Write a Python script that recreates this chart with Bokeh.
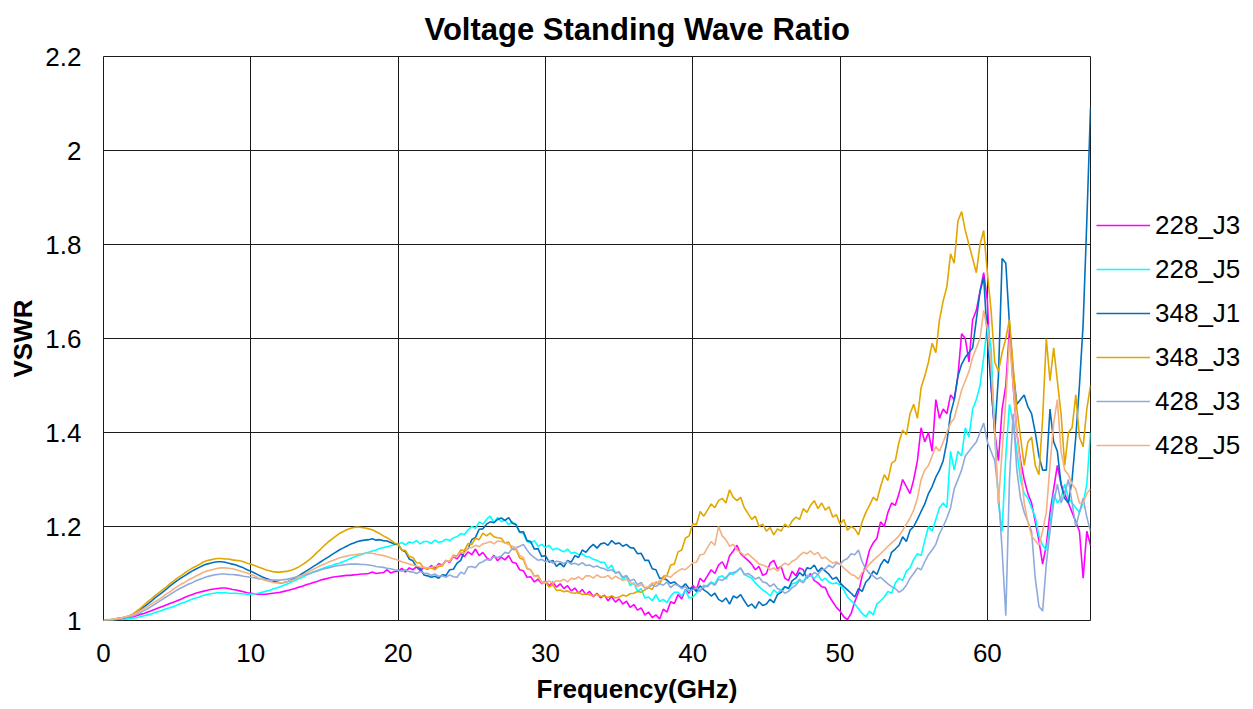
from bokeh.plotting import figure
from bokeh.models import Legend, LegendItem, FixedTicker, PrintfTickFormatter, Title, Range1d
from bokeh.embed import file_html
from bokeh.resources import INLINE

# Frequency grid (GHz), 0.25 GHz sampling
freq = [i * 0.25 for i in range(269)]

series_names = ["228_J3", "228_J5", "348_J1", "348_J3", "428_J3", "428_J5"]

vswr_228_J3 = [
    1.000, 1.001, 1.000, 1.002, 1.003, 1.004, 1.005, 1.006, 1.008, 1.010, 1.013, 1.015,
    1.018, 1.021, 1.024, 1.027, 1.030, 1.033, 1.036, 1.039, 1.042, 1.045, 1.049, 1.052,
    1.055, 1.058, 1.060, 1.062, 1.064, 1.066, 1.067, 1.068, 1.069, 1.069, 1.068, 1.066,
    1.065, 1.063, 1.061, 1.059, 1.058, 1.057, 1.056, 1.056, 1.056, 1.057, 1.058, 1.059,
    1.060, 1.062, 1.064, 1.066, 1.068, 1.071, 1.073, 1.076, 1.078, 1.081, 1.083, 1.086,
    1.088, 1.090, 1.092, 1.093, 1.094, 1.095, 1.096, 1.096, 1.097, 1.098, 1.099, 1.099,
    1.100, 1.103, 1.100, 1.101, 1.102, 1.108, 1.101, 1.104, 1.105, 1.111, 1.103, 1.112,
    1.108, 1.114, 1.106, 1.113, 1.109, 1.117, 1.111, 1.121, 1.118, 1.128, 1.124, 1.136,
    1.131, 1.142, 1.136, 1.146, 1.140, 1.152, 1.138, 1.145, 1.134, 1.128, 1.139, 1.127,
    1.135, 1.129, 1.138, 1.124, 1.122, 1.108, 1.106, 1.092, 1.093, 1.082, 1.088, 1.078,
    1.084, 1.074, 1.082, 1.071, 1.078, 1.068, 1.074, 1.063, 1.069, 1.058, 1.066, 1.055,
    1.062, 1.051, 1.058, 1.048, 1.054, 1.042, 1.051, 1.039, 1.046, 1.035, 1.041, 1.028,
    1.034, 1.022, 1.027, 1.012, 1.018, 1.006, 1.012, 1.003, 1.024, 1.018, 1.040, 1.036,
    1.055, 1.046, 1.066, 1.058, 1.075, 1.066, 1.090, 1.082, 1.095, 1.108, 1.100, 1.118,
    1.125, 1.110, 1.138, 1.148, 1.160, 1.142, 1.135, 1.128, 1.120, 1.108, 1.115, 1.096,
    1.100, 1.122, 1.128, 1.110, 1.115, 1.090, 1.085, 1.105, 1.095, 1.112, 1.108, 1.090,
    1.100, 1.085, 1.080, 1.072, 1.070, 1.052, 1.040, 1.028, 1.020, 1.008, 1.002, 1.015,
    1.040, 1.060, 1.095, 1.118, 1.150, 1.165, 1.175, 1.210, 1.200, 1.230, 1.250, 1.245,
    1.270, 1.300, 1.285, 1.270, 1.300, 1.340, 1.410, 1.380, 1.400, 1.360, 1.470, 1.430,
    1.450, 1.440, 1.480, 1.470, 1.520, 1.610, 1.600, 1.550, 1.640, 1.660, 1.700, 1.740,
    1.680, 1.500, 1.400, 1.340, 1.450, 1.500, 1.620, 1.500, 1.400, 1.340, 1.300, 1.270,
    1.250, 1.210, 1.170, 1.120, 1.160, 1.230, 1.280, 1.330, 1.290, 1.270, 1.250, 1.230,
    1.210, 1.190, 1.090, 1.190, 1.160,
]

vswr_228_J5 = [
    1.000, 1.001, 1.000, 1.001, 1.002, 1.002, 1.003, 1.004, 1.005, 1.006, 1.008, 1.010,
    1.012, 1.014, 1.017, 1.019, 1.022, 1.025, 1.027, 1.030, 1.033, 1.036, 1.039, 1.042,
    1.045, 1.048, 1.050, 1.053, 1.055, 1.057, 1.058, 1.059, 1.059, 1.059, 1.058, 1.058,
    1.058, 1.057, 1.057, 1.056, 1.056, 1.057, 1.058, 1.060, 1.062, 1.064, 1.067, 1.069,
    1.072, 1.075, 1.078, 1.082, 1.085, 1.089, 1.092, 1.096, 1.100, 1.103, 1.106, 1.109,
    1.112, 1.115, 1.117, 1.120, 1.122, 1.125, 1.128, 1.132, 1.135, 1.138, 1.140, 1.143,
    1.145, 1.148, 1.150, 1.153, 1.155, 1.157, 1.159, 1.161, 1.162, 1.166, 1.161, 1.167,
    1.165, 1.170, 1.163, 1.168, 1.168, 1.164, 1.171, 1.166, 1.168, 1.173, 1.170, 1.176,
    1.178, 1.185, 1.183, 1.193, 1.200, 1.196, 1.210, 1.205, 1.215, 1.222, 1.208, 1.219,
    1.210, 1.214, 1.204, 1.210, 1.204, 1.188, 1.185, 1.168, 1.165, 1.170, 1.158, 1.162,
    1.155, 1.160, 1.150, 1.154, 1.150, 1.146, 1.152, 1.143, 1.145, 1.140, 1.142, 1.136,
    1.135, 1.130, 1.128, 1.124, 1.124, 1.110, 1.118, 1.100, 1.104, 1.088, 1.094, 1.074,
    1.080, 1.062, 1.068, 1.048, 1.050, 1.042, 1.055, 1.040, 1.045, 1.038, 1.052, 1.060,
    1.060, 1.052, 1.065, 1.048, 1.050, 1.058, 1.065, 1.070, 1.075, 1.082, 1.078, 1.092,
    1.095, 1.088, 1.102, 1.098, 1.105, 1.112, 1.098, 1.094, 1.090, 1.080, 1.072, 1.065,
    1.060, 1.052, 1.065, 1.058, 1.065, 1.072, 1.068, 1.078, 1.080, 1.088, 1.082, 1.096,
    1.095, 1.090, 1.098, 1.085, 1.090, 1.082, 1.078, 1.080, 1.075, 1.065, 1.050, 1.042,
    1.035, 1.025, 1.015, 1.008, 1.020, 1.012, 1.035, 1.042, 1.050, 1.062, 1.058, 1.080,
    1.090, 1.085, 1.105, 1.112, 1.130, 1.142, 1.138, 1.170, 1.200, 1.190, 1.215, 1.240,
    1.250, 1.240, 1.360, 1.320, 1.360, 1.350, 1.410, 1.390, 1.450, 1.470, 1.500, 1.560,
    1.630, 1.580, 1.400, 1.250, 1.190, 1.350, 1.460, 1.420, 1.360, 1.300, 1.270, 1.260,
    1.240, 1.220, 1.180, 1.160, 1.150, 1.200, 1.270, 1.250, 1.260, 1.290, 1.260, 1.250,
    1.240, 1.230, 1.250, 1.290, 1.400,
]

vswr_348_J1 = [
    1.000, 0.998, 1.001, 1.003, 1.004, 1.005, 1.007, 1.009, 1.012, 1.017, 1.023, 1.029,
    1.035, 1.041, 1.048, 1.054, 1.060, 1.066, 1.073, 1.079, 1.085, 1.090, 1.095, 1.100,
    1.105, 1.109, 1.113, 1.117, 1.120, 1.122, 1.124, 1.125, 1.125, 1.124, 1.122, 1.120,
    1.118, 1.115, 1.112, 1.108, 1.105, 1.101, 1.097, 1.093, 1.090, 1.087, 1.084, 1.082,
    1.080, 1.081, 1.083, 1.086, 1.090, 1.095, 1.100, 1.105, 1.110, 1.115, 1.120, 1.125,
    1.130, 1.135, 1.140, 1.145, 1.150, 1.154, 1.158, 1.162, 1.165, 1.168, 1.170, 1.171,
    1.172, 1.174, 1.171, 1.172, 1.170, 1.169, 1.166, 1.163, 1.162, 1.150, 1.146, 1.131,
    1.127, 1.114, 1.111, 1.097, 1.095, 1.092, 1.094, 1.090, 1.097, 1.096, 1.108, 1.109,
    1.122, 1.128, 1.147, 1.153, 1.172, 1.177, 1.194, 1.195, 1.205, 1.210, 1.208, 1.215,
    1.218, 1.213, 1.219, 1.207, 1.204, 1.188, 1.189, 1.170, 1.168, 1.152, 1.153, 1.136,
    1.138, 1.124, 1.128, 1.115, 1.122, 1.114, 1.128, 1.124, 1.138, 1.134, 1.150, 1.145,
    1.155, 1.162, 1.154, 1.163, 1.165, 1.160, 1.170, 1.163, 1.165, 1.158, 1.162, 1.155,
    1.154, 1.142, 1.143, 1.128, 1.128, 1.110, 1.108, 1.090, 1.090, 1.086, 1.079, 1.082,
    1.075, 1.070, 1.078, 1.068, 1.070, 1.062, 1.074, 1.065, 1.060, 1.052, 1.058, 1.045,
    1.040, 1.048, 1.035, 1.052, 1.048, 1.055, 1.042, 1.030, 1.035, 1.026, 1.040, 1.032,
    1.035, 1.045, 1.038, 1.055, 1.060, 1.072, 1.068, 1.085, 1.090, 1.102, 1.095, 1.112,
    1.110, 1.118, 1.104, 1.112, 1.105, 1.098, 1.088, 1.092, 1.080, 1.072, 1.065, 1.058,
    1.050, 1.068, 1.062, 1.082, 1.090, 1.105, 1.098, 1.118, 1.130, 1.122, 1.145, 1.152,
    1.160, 1.178, 1.168, 1.192, 1.200, 1.215, 1.232, 1.248, 1.270, 1.285, 1.305, 1.320,
    1.340, 1.380, 1.440, 1.470, 1.520, 1.545, 1.560, 1.570, 1.580, 1.640, 1.700, 1.730,
    1.600, 1.500, 1.400, 1.520, 1.770, 1.760, 1.630, 1.530, 1.460, 1.470, 1.480, 1.455,
    1.440, 1.400, 1.350, 1.320, 1.320, 1.450, 1.380, 1.360, 1.290, 1.260, 1.250, 1.300,
    1.390, 1.500, 1.630, 1.850, 2.090,
]

vswr_348_J3 = [
    1.000, 1.002, 0.999, 1.003, 1.005, 1.006, 1.008, 1.010, 1.014, 1.020, 1.026, 1.033,
    1.040, 1.046, 1.053, 1.059, 1.065, 1.071, 1.078, 1.084, 1.090, 1.095, 1.101, 1.106,
    1.111, 1.115, 1.119, 1.124, 1.127, 1.129, 1.131, 1.132, 1.132, 1.131, 1.131, 1.129,
    1.128, 1.127, 1.125, 1.122, 1.120, 1.117, 1.114, 1.111, 1.108, 1.106, 1.104, 1.103,
    1.103, 1.104, 1.105, 1.107, 1.110, 1.114, 1.119, 1.124, 1.130, 1.137, 1.145, 1.152,
    1.160, 1.167, 1.173, 1.179, 1.185, 1.189, 1.193, 1.196, 1.198, 1.199, 1.198, 1.197,
    1.195, 1.193, 1.189, 1.185, 1.180, 1.176, 1.171, 1.165, 1.162, 1.150, 1.149, 1.136,
    1.134, 1.123, 1.122, 1.111, 1.110, 1.112, 1.108, 1.115, 1.116, 1.127, 1.126, 1.139,
    1.137, 1.150, 1.149, 1.164, 1.162, 1.175, 1.172, 1.186, 1.180, 1.186, 1.178, 1.176,
    1.175, 1.165, 1.167, 1.151, 1.151, 1.133, 1.130, 1.110, 1.108, 1.094, 1.096, 1.081,
    1.083, 1.071, 1.076, 1.064, 1.065, 1.061, 1.063, 1.059, 1.058, 1.060, 1.055, 1.057,
    1.055, 1.052, 1.056, 1.051, 1.052, 1.049, 1.053, 1.048, 1.050, 1.054, 1.052, 1.057,
    1.058, 1.062, 1.060, 1.065, 1.070, 1.066, 1.082, 1.078, 1.094, 1.096, 1.118, 1.120,
    1.146, 1.150, 1.175, 1.180, 1.206, 1.204, 1.232, 1.222, 1.235, 1.248, 1.240, 1.255,
    1.260, 1.250, 1.278, 1.262, 1.255, 1.262, 1.240, 1.228, 1.215, 1.222, 1.200, 1.205,
    1.190, 1.198, 1.182, 1.195, 1.190, 1.205, 1.198, 1.212, 1.220, 1.215, 1.238, 1.230,
    1.245, 1.255, 1.238, 1.250, 1.235, 1.242, 1.220, 1.225, 1.205, 1.215, 1.192, 1.200,
    1.195, 1.182, 1.210, 1.230, 1.245, 1.262, 1.255, 1.285, 1.310, 1.298, 1.335, 1.340,
    1.380, 1.405, 1.395, 1.440, 1.460, 1.430, 1.495, 1.520, 1.550, 1.590, 1.570, 1.640,
    1.680, 1.710, 1.780, 1.760, 1.850, 1.870, 1.830, 1.800, 1.770, 1.740, 1.800, 1.830,
    1.740, 1.660, 1.550, 1.530, 1.570, 1.600, 1.640, 1.540, 1.450, 1.390, 1.330, 1.380,
    1.390, 1.330, 1.310, 1.430, 1.600, 1.510, 1.580, 1.510, 1.440, 1.330, 1.400, 1.410,
    1.480, 1.390, 1.370, 1.450, 1.500,
]

vswr_428_J3 = [
    1.000, 1.001, 1.002, 1.003, 1.004, 1.005, 1.007, 1.008, 1.010, 1.013, 1.017, 1.021,
    1.025, 1.030, 1.035, 1.040, 1.045, 1.050, 1.055, 1.060, 1.065, 1.069, 1.073, 1.077,
    1.080, 1.084, 1.087, 1.090, 1.093, 1.095, 1.097, 1.098, 1.099, 1.099, 1.098, 1.098,
    1.097, 1.096, 1.094, 1.093, 1.092, 1.091, 1.089, 1.088, 1.087, 1.086, 1.086, 1.086,
    1.086, 1.087, 1.088, 1.090, 1.092, 1.094, 1.096, 1.098, 1.100, 1.103, 1.105, 1.108,
    1.110, 1.112, 1.114, 1.116, 1.117, 1.118, 1.119, 1.120, 1.120, 1.120, 1.119, 1.119,
    1.118, 1.117, 1.115, 1.114, 1.113, 1.111, 1.110, 1.108, 1.107, 1.105, 1.108, 1.104,
    1.103, 1.100, 1.104, 1.101, 1.100, 1.096, 1.099, 1.094, 1.095, 1.092, 1.097, 1.093,
    1.092, 1.103, 1.099, 1.114, 1.115, 1.112, 1.122, 1.125, 1.130, 1.128, 1.136, 1.134,
    1.137, 1.145, 1.143, 1.153, 1.155, 1.158, 1.162, 1.150, 1.140, 1.134, 1.128, 1.130,
    1.125, 1.128, 1.122, 1.126, 1.125, 1.121, 1.126, 1.120, 1.122, 1.118, 1.123, 1.117,
    1.118, 1.114, 1.116, 1.112, 1.110, 1.106, 1.108, 1.102, 1.103, 1.092, 1.096, 1.084,
    1.088, 1.076, 1.081, 1.069, 1.070, 1.076, 1.072, 1.078, 1.075, 1.082, 1.070, 1.077,
    1.075, 1.068, 1.072, 1.062, 1.065, 1.070, 1.062, 1.075, 1.072, 1.080, 1.075, 1.088,
    1.085, 1.092, 1.098, 1.102, 1.105, 1.112, 1.098, 1.100, 1.095, 1.088, 1.092, 1.082,
    1.080, 1.072, 1.078, 1.068, 1.065, 1.058, 1.062, 1.070, 1.075, 1.085, 1.080, 1.092,
    1.095, 1.102, 1.098, 1.108, 1.110, 1.118, 1.112, 1.122, 1.120, 1.128, 1.132, 1.142,
    1.140, 1.150, 1.125, 1.110, 1.100, 1.095, 1.088, 1.092, 1.085, 1.078, 1.072, 1.068,
    1.060, 1.065, 1.075, 1.090, 1.100, 1.112, 1.108, 1.125, 1.140, 1.150, 1.162, 1.185,
    1.200, 1.218, 1.240, 1.280, 1.300, 1.320, 1.350, 1.360, 1.370, 1.380, 1.400, 1.420,
    1.380, 1.360, 1.340, 1.270, 1.150, 1.010, 1.300, 1.440, 1.320, 1.260, 1.230, 1.210,
    1.190, 1.090, 1.030, 1.020, 1.120, 1.190, 1.250, 1.290, 1.250, 1.270, 1.300, 1.250,
    1.200, 1.230, 1.260, 1.220, 1.190,
]

vswr_428_J5 = [
    1.000, 1.001, 1.002, 1.003, 1.004, 1.006, 1.008, 1.010, 1.012, 1.016, 1.021, 1.025,
    1.030, 1.035, 1.040, 1.045, 1.050, 1.056, 1.061, 1.067, 1.072, 1.077, 1.081, 1.086,
    1.090, 1.094, 1.098, 1.102, 1.105, 1.107, 1.109, 1.111, 1.112, 1.112, 1.111, 1.110,
    1.108, 1.106, 1.103, 1.101, 1.098, 1.095, 1.091, 1.088, 1.085, 1.083, 1.081, 1.080,
    1.080, 1.081, 1.083, 1.085, 1.088, 1.092, 1.096, 1.101, 1.105, 1.109, 1.113, 1.117,
    1.120, 1.124, 1.127, 1.130, 1.133, 1.135, 1.137, 1.139, 1.140, 1.141, 1.142, 1.143,
    1.143, 1.143, 1.141, 1.140, 1.138, 1.136, 1.133, 1.131, 1.128, 1.125, 1.123, 1.120,
    1.118, 1.116, 1.114, 1.113, 1.112, 1.113, 1.115, 1.117, 1.118, 1.127, 1.126, 1.137,
    1.135, 1.146, 1.143, 1.155, 1.155, 1.160, 1.157, 1.163, 1.165, 1.168, 1.163, 1.169,
    1.168, 1.165, 1.162, 1.158, 1.155, 1.138, 1.134, 1.112, 1.108, 1.093, 1.094, 1.080,
    1.080, 1.084, 1.079, 1.085, 1.083, 1.088, 1.082, 1.090, 1.088, 1.093, 1.087, 1.095,
    1.095, 1.090, 1.097, 1.092, 1.092, 1.096, 1.088, 1.094, 1.090, 1.085, 1.088, 1.080,
    1.078, 1.072, 1.076, 1.070, 1.072, 1.080, 1.078, 1.085, 1.088, 1.095, 1.092, 1.100,
    1.105, 1.110, 1.108, 1.115, 1.123, 1.124, 1.140, 1.141, 1.155, 1.168, 1.160, 1.200,
    1.180, 1.172, 1.158, 1.162, 1.150, 1.145, 1.138, 1.142, 1.135, 1.128, 1.120, 1.118,
    1.115, 1.108, 1.112, 1.105, 1.115, 1.122, 1.118, 1.126, 1.130, 1.138, 1.145, 1.142,
    1.148, 1.140, 1.145, 1.132, 1.135, 1.128, 1.122, 1.125, 1.120, 1.112, 1.105, 1.098,
    1.095, 1.088, 1.102, 1.110, 1.120, 1.128, 1.135, 1.142, 1.150, 1.158, 1.165, 1.172,
    1.180, 1.192, 1.205, 1.218, 1.235, 1.260, 1.300, 1.320, 1.330, 1.350, 1.370, 1.360,
    1.380, 1.400, 1.420, 1.430, 1.460, 1.490, 1.510, 1.530, 1.560, 1.580, 1.600, 1.660,
    1.620, 1.540, 1.400, 1.250, 1.360, 1.470, 1.600, 1.500, 1.400, 1.330, 1.250, 1.210,
    1.180, 1.170, 1.160, 1.190, 1.230, 1.330, 1.420, 1.470, 1.360, 1.320, 1.310, 1.290,
    1.280, 1.250, 1.250, 1.270, 1.280,
]

series_values = [vswr_228_J3, vswr_228_J5, vswr_348_J1, vswr_348_J3, vswr_428_J3, vswr_428_J5]
series_colors = ["#FF00FF", "#00FFFF", "#0070C0", "#E1A600", "#8FAADC", "#F4B183"]

x_ticks = [0, 10, 20, 30, 40, 50, 60]
y_ticks = [1, 1.2, 1.4, 1.6, 1.8, 2, 2.2]

FONT = "Liberation Sans"

p = figure(
    frame_width=987, frame_height=564,
    min_border_left=103, min_border_right=163, min_border_top=56, min_border_bottom=60,
    x_range=Range1d(0, 67), y_range=Range1d(1, 2.2),
    output_backend="svg", toolbar_location=None,
)

p.add_layout(Title(text="Voltage Standing Wave Ratio", align="left", offset=321,
                   text_font=FONT, text_font_size="31px", text_font_style="bold",
                   text_color="black", standoff=19), "above")
p.add_layout(Title(text="Frequency(GHz)", align="left", offset=433,
                   text_font=FONT, text_font_size="26px", text_font_style="bold",
                   text_color="black", standoff=14), "below")

items = []
for name, vals, col in zip(series_names, series_values, series_colors):
    r = p.line(freq, vals, line_color=col, line_width=1.6)
    items.append(LegendItem(label=name, renderers=[r]))

legend = Legend(items=items, location=(6, 153), orientation="vertical",
                glyph_width=54, glyph_height=44, label_height=44, label_standoff=5,
                spacing=0, padding=0, margin=0,
                label_text_font=FONT, label_text_font_size="26px", label_text_color="black",
                border_line_color=None, background_fill_alpha=0)
p.add_layout(legend, "right")

p.xaxis.ticker = FixedTicker(ticks=x_ticks)
p.yaxis.ticker = FixedTicker(ticks=y_ticks)
p.yaxis.formatter = PrintfTickFormatter(format="%g")
p.xaxis.formatter = PrintfTickFormatter(format="%g")

for ax in (p.xaxis, p.yaxis):
    ax.axis_line_color = None
    ax.major_tick_line_color = None
    ax.minor_tick_line_color = None
    ax.major_tick_out = 0
    ax.major_tick_in = 0
    ax.major_label_text_font = FONT
    ax.major_label_text_font_size = "26px"
    ax.major_label_text_color = "black"

p.xaxis.major_label_standoff = 23
p.yaxis.major_label_standoff = 22
p.yaxis.axis_label = "VSWR"
p.yaxis.axis_label_text_font = FONT
p.yaxis.axis_label_text_font_size = "26px"
p.yaxis.axis_label_text_font_style = "bold"
p.yaxis.axis_label_text_color = "black"
p.yaxis.axis_label_standoff = 4

p.xgrid.ticker = FixedTicker(ticks=x_ticks)
p.ygrid.ticker = FixedTicker(ticks=y_ticks)
p.grid.grid_line_color = "#1a1a1a"
p.grid.grid_line_width = 1
p.grid.grid_line_alpha = 1.0

p.outline_line_color = "#1a1a1a"
p.outline_line_width = 1
p.background_fill_color = "white"
p.border_fill_color = "white"

open("out.html", "w").write(file_html(p, INLINE))
